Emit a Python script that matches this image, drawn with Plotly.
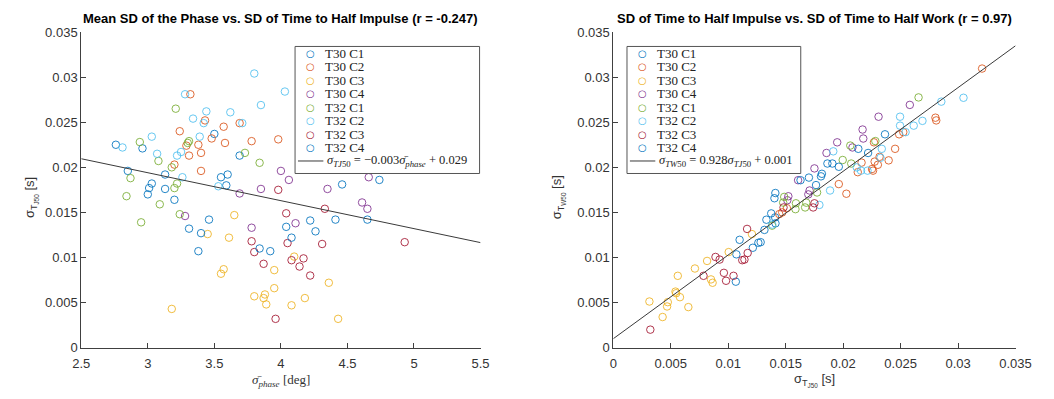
import plotly.graph_objects as go

W, H = 1054, 399

names = ["T30 C1", "T30 C2", "T30 C3", "T30 C4", "T32 C1", "T32 C2", "T32 C3", "T32 C4"]
colors = ["#0072BD", "#D95319", "#EDB120", "#7E2F8E", "#77AC30", "#4DBEEE", "#A2142F", "#0072BD"]

# ---------------- Left panel: mean SD of phase [deg] vs SD of time to half impulse [s]
phase_t30c1 = [2.76, 2.96, 2.85, 3.03, 3.01, 3.00, 3.13, 3.13, 3.20, 3.50, 3.55, 3.60, 3.59, 3.69]
tj50_t30c1 = [0.0225, 0.0221, 0.0196, 0.0182, 0.0177, 0.0170, 0.0192, 0.0176, 0.0164, 0.0237, 0.0189, 0.0192, 0.0180, 0.0213]
phase_t30c2 = [3.24, 3.29, 3.31, 3.38, 3.40, 3.43, 3.48, 3.57, 3.58, 3.69, 3.78, 3.98, 3.20, 3.40, 3.32]
tj50_t30c2 = [0.0240, 0.0224, 0.0213, 0.0225, 0.0216, 0.0252, 0.0232, 0.0245, 0.0227, 0.0249, 0.0229, 0.0231, 0.0203, 0.0196, 0.0281]
phase_t30c3 = [3.65, 3.45, 3.61, 3.18, 3.55, 3.57, 3.80, 3.87, 3.88, 3.89, 3.95, 3.95, 4.10, 4.08, 4.18, 4.36, 4.43]
tj50_t30c3 = [0.0147, 0.0126, 0.0122, 0.0043, 0.0082, 0.0087, 0.0057, 0.0055, 0.0059, 0.0048, 0.0066, 0.0086, 0.0101, 0.0047, 0.0055, 0.0072, 0.0032]
phase_t30c4 = [3.28, 3.69, 3.85, 3.78, 4.00, 4.06, 4.35, 4.66, 4.61, 4.65, 4.11]
tj50_t30c4 = [0.0146, 0.0171, 0.0176, 0.0133, 0.0196, 0.0186, 0.0176, 0.0189, 0.0161, 0.0154, 0.0138]
phase_t32c1 = [2.94, 3.21, 3.30, 3.31, 3.73, 3.84, 3.08, 3.18, 3.20, 3.22, 2.87, 2.84, 3.09, 2.95, 3.24]
tj50_t32c1 = [0.0228, 0.0265, 0.0227, 0.0229, 0.0216, 0.0205, 0.0207, 0.0200, 0.0177, 0.0182, 0.0188, 0.0168, 0.0159, 0.0139, 0.0148]
phase_t32c2 = [2.81, 3.03, 3.07, 3.22, 3.25, 3.26, 3.34, 3.42, 3.44, 3.62, 3.39, 3.71, 3.85, 3.53, 3.80, 4.03, 3.28]
tj50_t32c2 = [0.0222, 0.0234, 0.0215, 0.0213, 0.0217, 0.0189, 0.0254, 0.0249, 0.0262, 0.0261, 0.0234, 0.0249, 0.0269, 0.0179, 0.0304, 0.0284, 0.0281]
phase_t32c3 = [3.98, 4.04, 4.33, 4.05, 4.31, 4.93, 3.78, 3.80, 3.87, 3.96, 4.08, 4.17, 4.14, 4.22]
tj50_t32c3 = [0.0175, 0.0149, 0.0154, 0.0116, 0.0115, 0.0117, 0.0118, 0.0106, 0.0093, 0.0032, 0.0097, 0.0099, 0.0090, 0.0080]
phase_t32c4 = [3.46, 3.31, 3.40, 3.38, 3.84, 3.92, 4.46, 4.74, 4.41, 4.65, 4.22, 4.04, 4.08, 4.26]
tj50_t32c4 = [0.0142, 0.0132, 0.0127, 0.0107, 0.0110, 0.0107, 0.0181, 0.0186, 0.0142, 0.0142, 0.0141, 0.0134, 0.0122, 0.0129]

fit_left_x = [2.5, 5.5]
fit_left_slope = -0.0031
fit_left_intercept = 0.0287
fit_left_label = "<i>σ</i><sub><i>TJ</i>50</sub> = −0.003<i>σ̄</i><sub><i>phase</i></sub> + 0.029"

# ---------------- Right panel: SD of time to half impulse [s] vs SD of time to half work [s]
tj_t30c1 = [0.01066, 0.01071, 0.01099, 0.01214, 0.01262, 0.01282, 0.01315, 0.01332, 0.01374, 0.01402, 0.01408, 0.01411]
tw_t30c1 = [0.00732, 0.01035, 0.01196, 0.01108, 0.01163, 0.01170, 0.01306, 0.01419, 0.01489, 0.01657, 0.01445, 0.01379]
tj_t30c2 = [0.03209, 0.02803, 0.02810, 0.02487, 0.02523, 0.02452, 0.02396, 0.02317, 0.02302, 0.02274, 0.02251, 0.02260, 0.02127, 0.02160, 0.01962, 0.02028, 0.02268, 0.01444, 0.01470, 0.01510]
tw_t30c2 = [0.03095, 0.02550, 0.02520, 0.02366, 0.02390, 0.02205, 0.02077, 0.02116, 0.02028, 0.02063, 0.01981, 0.01963, 0.01946, 0.02052, 0.01814, 0.01707, 0.02277, 0.01481, 0.01500, 0.01547]
tj_t30c3 = [0.00314, 0.00429, 0.00468, 0.00474, 0.00547, 0.00561, 0.00541, 0.00580, 0.00653, 0.00710, 0.00816, 0.00850, 0.00864, 0.01004, 0.01206]
tw_t30c3 = [0.00512, 0.00340, 0.00457, 0.00505, 0.00604, 0.00797, 0.00622, 0.00560, 0.00450, 0.00878, 0.00962, 0.00757, 0.00720, 0.01060, 0.01260]
tj_t30c4 = [0.02580, 0.02308, 0.02169, 0.02175, 0.01948, 0.02081, 0.01855, 0.01750, 0.01608, 0.01708, 0.01523, 0.01514, 0.01697]
tw_t30c4 = [0.02692, 0.02561, 0.02419, 0.02319, 0.02277, 0.02220, 0.02159, 0.01988, 0.01857, 0.01743, 0.01679, 0.01635, 0.01700]
tj_t32c1 = [0.02656, 0.02062, 0.02280, 0.01996, 0.02070, 0.01773, 0.01679, 0.01589, 0.01487, 0.01382, 0.01478, 0.01585, 0.01669]
tw_t32c1 = [0.02775, 0.02241, 0.02291, 0.02081, 0.02042, 0.01721, 0.01608, 0.01601, 0.01672, 0.01353, 0.01609, 0.01536, 0.01555]
tj_t32c2 = [0.03047, 0.02854, 0.02690, 0.02614, 0.02543, 0.02495, 0.02495, 0.02336, 0.02325, 0.02212, 0.02155, 0.02118, 0.01886, 0.01793, 0.01914, 0.01383]
tw_t32c2 = [0.02771, 0.02728, 0.02515, 0.02462, 0.02390, 0.02561, 0.02462, 0.02205, 0.02106, 0.01963, 0.01963, 0.01999, 0.01743, 0.01583, 0.02177, 0.01365]
tj_t32c3 = [0.00322, 0.00785, 0.00889, 0.00925, 0.00962, 0.00981, 0.01046, 0.01122, 0.01141, 0.01169, 0.01164, 0.01739, 0.01750, 0.01481]
tw_t32c3 = [0.00200, 0.00797, 0.01006, 0.00977, 0.00830, 0.00742, 0.00797, 0.00970, 0.00977, 0.01050, 0.01317, 0.01555, 0.01601, 0.01555]
tj_t32c4 = [0.02364, 0.02217, 0.02132, 0.01863, 0.01906, 0.01962, 0.01815, 0.01807, 0.01702, 0.01629, 0.01764, 0.01410]
tw_t32c4 = [0.02366, 0.02159, 0.02205, 0.02042, 0.02042, 0.02006, 0.01928, 0.01900, 0.01886, 0.01857, 0.01803, 0.01715]

fit_right_x = [0.0, 0.035]
fit_right_slope = 0.928
fit_right_intercept = 0.001
fit_right_label = "<i>σ</i><sub><i>TW</i>50</sub> = 0.928<i>σ</i><sub><i>TJ</i>50</sub> + 0.001"

left_groups = [(phase_t30c1, tj50_t30c1), (phase_t30c2, tj50_t30c2), (phase_t30c3, tj50_t30c3),
               (phase_t30c4, tj50_t30c4), (phase_t32c1, tj50_t32c1), (phase_t32c2, tj50_t32c2),
               (phase_t32c3, tj50_t32c3), (phase_t32c4, tj50_t32c4)]
right_groups = [(tj_t30c1, tw_t30c1), (tj_t30c2, tw_t30c2), (tj_t30c3, tw_t30c3),
                (tj_t30c4, tw_t30c4), (tj_t32c1, tw_t32c1), (tj_t32c2, tw_t32c2),
                (tj_t32c3, tw_t32c3), (tj_t32c4, tw_t32c4)]

# ---------------- layout helpers (pixel -> paper)
def fx(x):
    return x / W

def fy(y):
    return 1 - y / H

L_X0, L_X1 = 74, 483
R_X0, R_X1 = 619, 1031
Y_TOP, Y_BOT = 26, 354

SANS = "Liberation Sans, Arial, sans-serif"
SERIF = "Liberation Serif, Times New Roman, serif"
AXC = "#404040"

fig = go.Figure()

for (xs, ys), nm, c in zip(left_groups, names, colors):
    fig.add_trace(go.Scatter(x=xs, y=ys, mode="markers", name=nm, showlegend=False,
                             xaxis="x", yaxis="y",
                             marker=dict(symbol="circle-open", size=7.5, color=c, opacity=0.85,
                                         line=dict(width=1, color=c))))
fig.add_trace(go.Scatter(x=fit_left_x, y=[fit_left_slope * v + fit_left_intercept for v in fit_left_x],
                         mode="lines", showlegend=False, xaxis="x", yaxis="y",
                         line=dict(color="#3a3a3a", width=1)))

for (xs, ys), nm, c in zip(right_groups, names, colors):
    fig.add_trace(go.Scatter(x=xs, y=ys, mode="markers", name=nm, showlegend=False,
                             xaxis="x2", yaxis="y2",
                             marker=dict(symbol="circle-open", size=7.5, color=c, opacity=0.85,
                                         line=dict(width=1, color=c))))
fig.add_trace(go.Scatter(x=fit_right_x, y=[fit_right_slope * v + fit_right_intercept for v in fit_right_x],
                         mode="lines", showlegend=False, xaxis="x2", yaxis="y2",
                         line=dict(color="#3a3a3a", width=1)))

axis_common = dict(showline=True, linecolor=AXC, linewidth=1, ticks="inside", ticklen=5,
                   tickcolor=AXC, showgrid=False, zeroline=False, mirror=False,
                   tickfont=dict(family=SANS, size=13, color="#333333"))

ydom = [fy(Y_BOT), fy(Y_TOP)]
fig.update_layout(
    width=W, height=H, margin=dict(l=0, r=0, t=0, b=0),
    paper_bgcolor="white", plot_bgcolor="white", showlegend=False,
    xaxis=dict(domain=[fx(L_X0), fx(L_X1)], range=[2.5, 5.5], dtick=0.5, anchor="y",
               ticklabelstandoff=4, **axis_common),
    yaxis=dict(domain=ydom, range=[0, 0.035], dtick=0.005, anchor="x", **axis_common),
    xaxis2=dict(domain=[fx(R_X0), fx(R_X1)], range=[0, 0.035], dtick=0.005, anchor="y2",
                ticklabelstandoff=4, **axis_common),
    yaxis2=dict(domain=ydom, range=[0, 0.035], dtick=0.005, anchor="x2", **axis_common),
)

ann = []
shapes = []

# titles
ann.append(dict(x=fx((L_X0 + L_X1) / 2), y=fy(12), xref="paper", yref="paper", showarrow=False,
                text="<b>Mean SD of the Phase vs. SD of Time to Half Impulse (r = -0.247)</b>",
                font=dict(family=SANS, size=13, color="black"), xanchor="center", yanchor="middle"))
ann.append(dict(x=fx((R_X0 + R_X1) / 2), y=fy(12), xref="paper", yref="paper", showarrow=False,
                text="<b>SD of Time to Half Impulse vs. SD of Time to Half Work (r = 0.97)</b>",
                font=dict(family=SANS, size=13, color="black"), xanchor="center", yanchor="middle"))

# axis titles
ann.append(dict(x=fx((L_X0 + L_X1) / 2), y=fy(388), xref="paper", yref="paper", showarrow=False,
                text="<i>σ̄</i><sub><i>phase</i></sub> [deg]",
                font=dict(family=SERIF, size=13, color="#333333"), xanchor="center", yanchor="middle"))
ann.append(dict(x=fx((R_X0 + R_X1) / 2), y=fy(388), xref="paper", yref="paper", showarrow=False,
                text="σ<sub>T<sub>J50</sub></sub> [s]",
                font=dict(family=SANS, size=13, color="#333333"), xanchor="center", yanchor="middle"))
ann.append(dict(x=fx(22), y=fy(198), xref="paper", yref="paper", showarrow=False, textangle=-90,
                text="σ<sub>T<sub>J50</sub></sub> [s]",
                font=dict(family=SANS, size=13, color="#333333"), xanchor="center", yanchor="middle"))
ann.append(dict(x=fx(562), y=fy(198), xref="paper", yref="paper", showarrow=False, textangle=-90,
                text="σ<sub>T<sub>W50</sub></sub> [s]",
                font=dict(family=SANS, size=13, color="#333333"), xanchor="center", yanchor="middle"))

# custom legends (compact, MATLAB-like)
def add_legend(bx0, bx1, by0, by1, fit_label):
    shapes.append(dict(type="rect", xref="paper", yref="paper", x0=fx(bx0), x1=fx(bx1),
                       y0=fy(by1), y1=fy(by0), line=dict(color="#555555", width=1),
                       fillcolor="white", layer="above"))
    for i, (nm, c) in enumerate(zip(names, colors)):
        ry = by0 + 7 + 14 * i
        ann.append(dict(x=fx(bx0 + 16), y=fy(ry), xref="paper", yref="paper", showarrow=False,
                        text="○", font=dict(family="DejaVu Sans", size=10, color=c),
                        xanchor="center", yanchor="middle"))
        ann.append(dict(x=fx(bx0 + 29), y=fy(ry), xref="paper", yref="paper", showarrow=False,
                        text=nm, font=dict(family=SERIF, size=13, color="#222222"),
                        xanchor="left", yanchor="middle"))
    ry = by0 + 7 + 14 * 8
    shapes.append(dict(type="line", xref="paper", yref="paper", x0=fx(bx0 + 3), x1=fx(bx0 + 29),
                       y0=fy(ry), y1=fy(ry), line=dict(color="#3a3a3a", width=1), layer="above"))
    ann.append(dict(x=fx(bx0 + 31), y=fy(ry), xref="paper", yref="paper", showarrow=False,
                    text=fit_label, font=dict(family=SERIF, size=12.5, color="#222222"),
                    xanchor="left", yanchor="middle"))

add_legend(293, 482, 41, 173, fit_left_label)
add_legend(633, 811, 41, 173, fit_right_label)

fig.update_layout(annotations=ann, shapes=shapes)

fig.write_html("out.html")
